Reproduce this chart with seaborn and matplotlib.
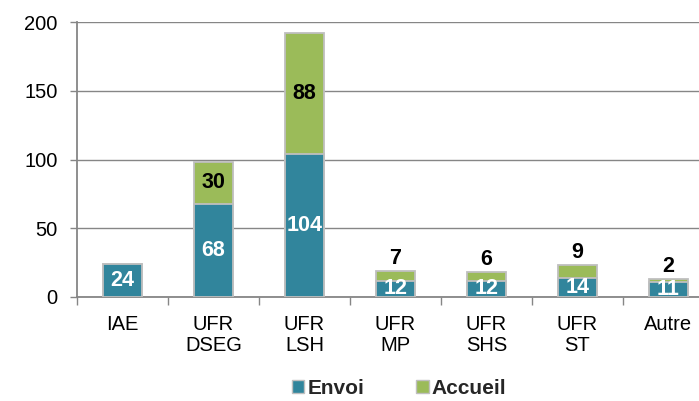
import matplotlib
matplotlib.use("Agg")
import matplotlib.pyplot as plt
from matplotlib.patches import Patch
import seaborn as sns
import pandas as pd

categories = ["IAE", "UFR\nDSEG", "UFR\nLSH", "UFR\nMP", "UFR\nSHS", "UFR\nST", "Autre"]
envoi = [24, 68, 104, 12, 12, 14, 11]
accueil = [0, 30, 88, 7, 6, 9, 2]

ENVOI_COLOR = "#31859C"
ACCUEIL_COLOR = "#9BBB59"
EDGE = "#BFBFBF"
AXIS_GRAY = "#868686"

sns.set_theme(style="white")
plt.rcParams["font.family"] = ["Liberation Sans", "DejaVu Sans"]

df = pd.DataFrame({
    "cat": categories,
    "Envoi": envoi,
    "Accueil": accueil,
})
df["Total"] = df["Envoi"] + df["Accueil"]

fig = plt.figure(figsize=(6.99, 4.01), dpi=100)
ax = fig.add_axes([77 / 699, 1 - 297 / 401, 637 / 699, 275 / 401])

# stacked bars: full height in green, Envoi segment drawn over it
sns.barplot(data=df, x="cat", y="Total", color=ACCUEIL_COLOR, width=0.42,
            edgecolor=EDGE, linewidth=1.3, saturation=1, ax=ax, zorder=2)
sns.barplot(data=df, x="cat", y="Envoi", color=ENVOI_COLOR, width=0.42,
            edgecolor=EDGE, linewidth=1.3, saturation=1, ax=ax, zorder=3)

ax.set_ylim(0, 200)
ax.set_xlim(-0.5, len(categories) - 0.5)
ax.set_yticks([0, 50, 100, 150, 200])
ax.set_xlabel("")
ax.set_ylabel("")
ax.yaxis.grid(True, color=AXIS_GRAY, linewidth=1)
ax.set_axisbelow(True)

for side in ("top", "right"):
    ax.spines[side].set_visible(False)
for side in ("left", "bottom"):
    ax.spines[side].set_color(AXIS_GRAY)
    ax.spines[side].set_linewidth(1.3)

ax.tick_params(axis="y", which="major", length=5, width=1, color=AXIS_GRAY,
               direction="out", labelsize=14.5, labelcolor="black", pad=9, left=True)
ax.tick_params(axis="x", which="major", length=0, labelsize=14.5,
               labelcolor="black", pad=13)
for lbl in ax.get_xticklabels():
    lbl.set_linespacing(1.12)
# category separators on the x axis
ax.set_xticks([i - 0.5 for i in range(len(categories) + 1)], minor=True)
ax.tick_params(axis="x", which="minor", length=6, width=1, color=AXIS_GRAY,
               direction="out", bottom=True)

label_font = dict(fontsize=15.5, fontweight="bold", ha="center")
for i, (e, a) in enumerate(zip(envoi, accueil)):
    ax.text(i, e / 2, str(e), color="white", zorder=5, clip_on=True,
            va="center", **label_font)
    if a == 0:
        continue
    if a >= 20:
        ax.text(i, e + a / 2, str(a), color="black", zorder=5,
                va="center", **label_font)
    else:
        ax.text(i, e + a + 1.5, str(a), color="black", zorder=5,
                va="bottom", **label_font)

handles = [Patch(facecolor=ENVOI_COLOR, edgecolor=EDGE, label="Envoi"),
           Patch(facecolor=ACCUEIL_COLOR, edgecolor=EDGE, label="Accueil")]
fig.legend(handles=handles, loc="center", bbox_to_anchor=(0.571, 0.032),
           ncol=2, frameon=False, handlelength=0.6, handleheight=0.6,
           handletextpad=0.15, columnspacing=2.5, borderpad=0.1,
           prop={"weight": "bold", "size": 15})

fig.savefig("out.png", dpi=100)
